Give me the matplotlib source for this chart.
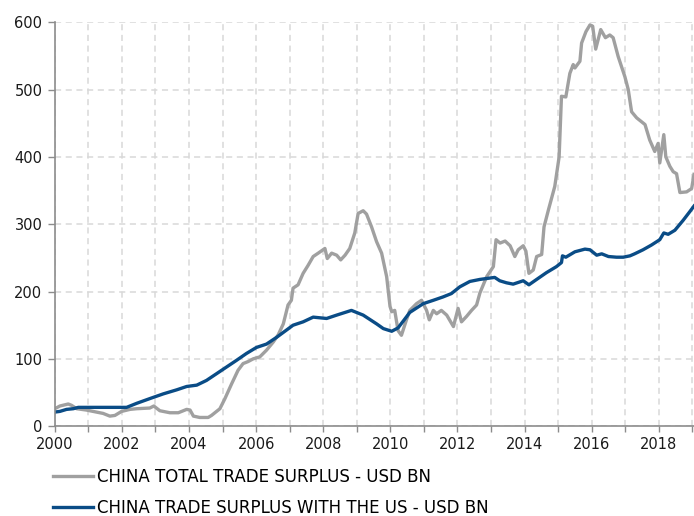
import matplotlib
matplotlib.use("Agg")
import matplotlib.pyplot as plt

# Excedente comercial total da China (USD bn)
total_anos = [2000.00, 2000.15, 2000.40, 2000.50, 2000.65, 2000.94, 2001.24, 2001.44, 2001.64, 2001.79,
              2001.99, 2002.24, 2002.44, 2002.83, 2002.95, 2003.13, 2003.43, 2003.68, 2003.93, 2004.03,
              2004.13, 2004.32, 2004.57, 2004.67, 2004.92, 2005.07, 2005.27, 2005.46, 2005.61, 2005.76,
              2005.91, 2006.11, 2006.31, 2006.51, 2006.66, 2006.81, 2006.95, 2007.05, 2007.10, 2007.25,
              2007.40, 2007.55, 2007.70, 2007.85, 2008.05, 2008.12, 2008.25, 2008.40, 2008.52, 2008.65,
              2008.79, 2008.94, 2009.04, 2009.19, 2009.29, 2009.44, 2009.59, 2009.74, 2009.89, 2009.99,
              2010.04, 2010.13, 2010.23, 2010.33, 2010.48, 2010.58, 2010.78, 2010.93, 2011.08, 2011.16,
              2011.28, 2011.38, 2011.52, 2011.68, 2011.82, 2011.88, 2012.02, 2012.12, 2012.27, 2012.42,
              2012.57, 2012.67, 2012.87, 2013.07, 2013.15, 2013.27, 2013.42, 2013.57, 2013.71, 2013.81,
              2013.96, 2014.04, 2014.13, 2014.26, 2014.36, 2014.51, 2014.58, 2014.71, 2014.90, 2015.03,
              2015.10, 2015.23, 2015.35, 2015.45, 2015.50, 2015.65, 2015.70, 2015.83, 2015.95, 2016.03,
              2016.12, 2016.27, 2016.41, 2016.54, 2016.64, 2016.79, 2016.99, 2017.09, 2017.19, 2017.34,
              2017.59, 2017.73, 2017.88, 2017.98, 2018.03, 2018.15, 2018.21, 2018.33, 2018.43, 2018.53,
              2018.63, 2018.83, 2018.98, 2019.05]
total_valores = [26, 30, 33, 31, 26, 24, 21, 19, 15, 16,
                 22, 25, 26, 27, 30, 23, 20, 20, 25, 24,
                 15, 13, 13, 16, 26, 41, 63, 83, 93, 96,
                 100, 103, 113, 125, 136, 152, 180, 187, 205, 210,
                 227, 239, 252, 257, 264, 249, 257, 254, 247, 254,
                 264, 287, 316, 320, 315, 296, 274, 257, 222, 178,
                 170, 172, 142, 135, 158, 172, 182, 187, 172, 158,
                 172, 167, 172, 165, 153, 148, 175, 155, 163, 172,
                 180, 198, 222, 237, 277, 272, 275, 268, 252, 262,
                 268, 260, 227, 232, 252, 255, 296, 321, 356, 400,
                 490, 489, 524, 537, 532, 542, 569, 586, 596, 594,
                 560, 589, 577, 581, 577, 549, 519, 500, 467, 458,
                 448, 425, 408, 420, 391, 433, 400, 386, 378, 375,
                 347, 348, 353, 374]

# Excedente comercial com os EUA (USD bn)
eua_anos = [2000.00, 2000.15, 2000.35, 2000.55, 2000.70, 2002.14, 2002.44, 2002.83, 2003.23, 2003.63,
            2003.93, 2004.23, 2004.52, 2004.82, 2005.12, 2005.42, 2005.71, 2006.01, 2006.31, 2006.61,
            2006.91, 2007.10, 2007.40, 2007.70, 2008.10, 2008.40, 2008.84, 2009.19, 2009.59, 2009.79,
            2010.04, 2010.23, 2010.58, 2010.98, 2011.28, 2011.57, 2011.82, 2012.07, 2012.37, 2012.67,
            2013.11, 2013.26, 2013.46, 2013.66, 2013.96, 2014.13, 2014.36, 2014.65, 2014.95, 2015.10,
            2015.13, 2015.23, 2015.50, 2015.80, 2015.95, 2016.15, 2016.30, 2016.50, 2016.74, 2016.94,
            2017.14, 2017.28, 2017.53, 2017.78, 2018.03, 2018.15, 2018.28, 2018.48, 2018.73, 2018.93,
            2019.05]
eua_valores = [21, 22, 25, 26, 28, 28, 34, 41, 48, 54,
               59, 61, 68, 78, 88, 98, 108, 117, 122, 132,
               143, 150, 155, 162, 160, 165, 172, 165, 152, 145,
               141, 146, 169, 182, 187, 192, 197, 207, 215, 218,
               221, 216, 213, 211, 216, 210, 218, 228, 237, 243,
               253, 251, 259, 263, 262, 254, 256, 252, 251, 251,
               253, 256, 262, 269, 277, 287, 285, 291, 306, 319,
               327]

rotulos = ['CHINA TOTAL TRADE SURPLUS - USD BN', 'CHINA TRADE SURPLUS WITH THE US - USD BN']
anos_ticks = list(range(2000, 2019, 2))

fig = plt.figure(figsize=(6.94, 5.16), dpi=100)
ax = fig.add_axes([0.079, 0.174, 0.921, 0.783])

ax.plot(total_anos, total_valores, color='#a0a0a0', lw=2.4, label=rotulos[0], solid_joinstyle='round')
ax.plot(eua_anos, eua_valores, color='#0a4c86', lw=2.4, label=rotulos[1], solid_joinstyle='round')

ax.set_xlim(2000, 2019.05)
ax.set_ylim(0, 600)
ax.set_xticks(anos_ticks)
ax.set_xticks(range(2000, 2020), minor=True)
ax.set_yticks(range(0, 601, 100))

ax.grid(True, which='both', axis='x', color='#d9d9d9', ls=(0, (4, 3)), lw=1.1)
ax.grid(True, axis='y', color='#d9d9d9', ls=(0, (4, 3)), lw=1.1)
ax.set_axisbelow(True)

for lado in ['top', 'right']:
    ax.spines[lado].set_visible(False)
for lado in ['left', 'bottom']:
    ax.spines[lado].set_color('#8c8c8c')
    ax.spines[lado].set_linewidth(1.2)

ax.tick_params(axis='both', which='both', colors='#8c8c8c', labelcolor='#1a1a1a', labelsize=10.5, width=1)
ax.tick_params(axis='y', length=5, pad=4)
ax.tick_params(axis='x', which='both', length=4, pad=4)

fig.legend(loc='upper left', bbox_to_anchor=(0.0667, 0.106), frameon=False, fontsize=12,
           handlelength=2.4, handletextpad=0.25, labelspacing=0.8, borderaxespad=0)

fig.savefig('out.png', dpi=100)
